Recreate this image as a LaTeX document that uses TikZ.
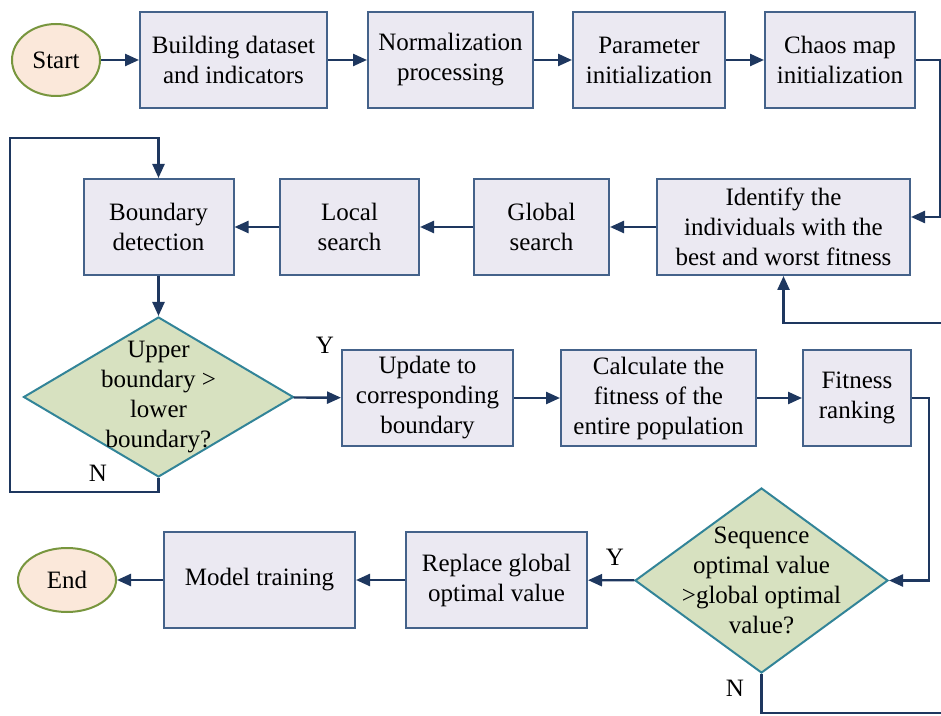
\documentclass[tikz,border=0pt]{standalone}
\usepackage{fontspec}
\setmainfont{Liberation Serif}
\usetikzlibrary{shapes.geometric,arrows.meta}

\definecolor{boxfill}{RGB}{235,233,242}
\definecolor{boxline}{RGB}{68,98,138}
\definecolor{arrowc}{RGB}{30,55,95}
\definecolor{decfill}{RGB}{215,225,192}
\definecolor{decline}{RGB}{50,132,152}
\definecolor{termfill}{RGB}{251,232,218}
\definecolor{termline}{RGB}{120,150,62}

\tikzset{
  conn/.style={draw=arrowc,line width=1.2pt,-{Triangle[length=7pt,width=6pt]}}
}

\begin{document}
\begin{tikzpicture}[x=0.5pt,y=-0.5pt,font=\fontsize{12.5}{15}\selectfont]

      \useasboundingbox (0,0) rectangle (941,716);

      \begin{scope}[every node/.style={ellipse,draw=termline,fill=termfill,line width=1pt}]
        \node[minimum width=44pt,minimum height=36pt] (1)  at (56,60)  {Start};
        \node[minimum width=49pt,minimum height=32pt] (16) at (67,580) {End};
      \end{scope}

      \begin{scope}[every node/.style={rectangle,draw=boxline,fill=boxfill,line width=1pt,
          minimum height=48pt,align=center}]
        \node[minimum width=93.5pt]  (2)  at (233.5,60) {Building dataset\\and indicators};
        \node[minimum width=82.5pt]  (3)  at (450.5,60) {Normalization\\processing};
        \node[minimum width=76pt]    (4)  at (649,60)   {Parameter\\initialization};
        \node[minimum width=75pt]    (5)  at (840,60)   {Chaos map\\initialization};
        \node[minimum width=126.5pt] (6)  at (783.5,227) {Identify the\\individuals with the\\best and worst fitness};
        \node[minimum width=67.5pt]  (7)  at (541.5,227) {Global\\search};
        \node[minimum width=69.5pt]  (8)  at (349.5,227) {Local\\search};
        \node[minimum width=75pt]    (9)  at (158.5,227) {Boundary\\detection};
        \node[minimum width=85.5pt]  (11) at (427.5,398) {Update to\\corresponding\\boundary};
        \node[minimum width=97.5pt]  (12) at (658.5,398) {Calculate the\\fitness of the\\entire population};
        \node[minimum width=54pt]    (13) at (857,398)   {Fitness\\ranking};
        \node[minimum width=90.5pt]  (15) at (496.5,580) {Replace global\\optimal value};
        \node[minimum width=95.5pt]  (17) at (259.5,580) {Model training};
      \end{scope}

      \begin{scope}[every node/.style={diamond,draw=decline,fill=decfill,line width=1pt,
          inner sep=-25pt,align=center}]
        \node[minimum width=135pt,minimum height=80pt]   (10) at (158.5,397) {Upper\\boundary >\\lower\\boundary?};
        \node[minimum width=126.5pt,minimum height=92.5pt] (14) at (761.5,580.5) {Sequence\\optimal value\\>global optimal\\value?};
      \end{scope}

      \node (y1) at (325,345) {Y};
      \node (n1) at (98,473)  {N};
      \node (y2) at (615,557) {Y};
      \node (n2) at (735,688) {N};

      \begin{scope}[every edge/.style={conn}]
        \path (1)  edge (2);
        \path (2)  edge (3);
        \path (3)  edge (4);
        \path (4)  edge (5);
        \path (6)  edge (7);
        \path (7)  edge (8);
        \path (8)  edge (9);
        \path (9)  edge (10);
        \path (10) edge (11);
        \path (11) edge (12);
        \path (12) edge (13);
        \path (14) edge (15);
        \path (15) edge (17);
        \path (17) edge (16);
      \end{scope}

      % loops
      \draw[conn] (5.east) -- (940,60) -- (940,217) -- (6.east |- 0,217);
      \draw[conn] (10.south) -- (158.5,492) -- (10,492) -- (10,138) -- (158.5,138) -- (9.north);
      \draw[conn] (13.east) -- (929,398) |- (14.east);
      \draw[conn] (14.south) -- (761.5,713) -- (950,713) -- (950,323) -- (783.5,323) -- (6.south);

    \end{tikzpicture}
\end{document}
